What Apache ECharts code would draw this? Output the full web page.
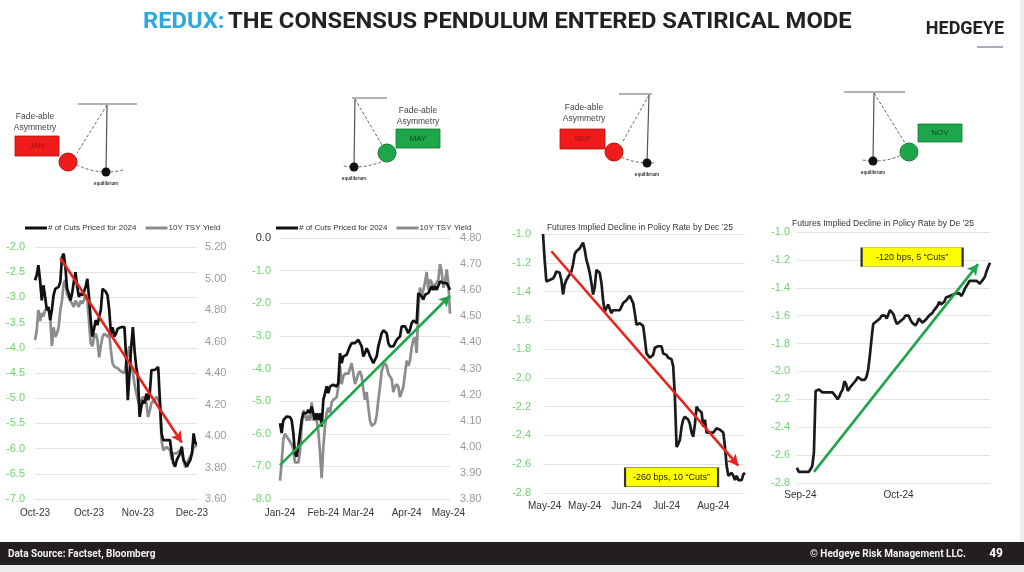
<!DOCTYPE html>
<html>
<head>
<meta charset="utf-8">
<script src="https://cdn.jsdelivr.net/npm/echarts@6/dist/echarts.min.js"></script>
<style>
  html, body { margin: 0; padding: 0; background: #fff; }
  #slide { width: 1024px; height: 572px; }
</style>
</head>
<body>
<div id="slide"></div>
<script>
// ---- panel 1: Oct-23 .. Dec-23 ----
const cuts1 = [-2.66,-2.56,-2.36,-2.66,-3.06,-2.76,-2.99,-3.25,-3.19,-3.45,-3.25,-2.96,-2.83,-2.86,-2.79,-2.69,-2.20,-2.13,-2.40,-2.83,
  -2.92,-3.06,-2.92,-2.69,-2.50,-2.79,-2.99,-2.92,-2.96,-2.89,-2.79,-2.63,-2.99,-3.45,-3.78,-3.62,-3.45,-3.55,-3.39,-3.25,
  -2.83,-2.83,-2.89,-2.96,-3.25,-3.72,-3.59,-3.78,-3.72,-3.62,-3.62,-3.59,-3.59,-3.59,-4.18,-5.04,-4.51,-3.98,-3.59,-4.05,
  -4.38,-4.58,-5.37,-5.17,-5.04,-5.10,-4.91,-5.04,-4.91,-4.44,-4.44,-4.44,-4.44,-4.38,-4.38,-5.70,-5.83,-5.83,-5.83,-5.83,
  -5.83,-6.10,-6.29,-6.36,-6.23,-6.16,-6.10,-5.96,-6.23,-6.29,-6.36,-6.29,-6.23,-6.10,-5.70,-5.90,-5.90];
const yld1 = [4.61,4.67,4.80,4.73,4.78,4.76,4.80,4.81,4.80,4.76,4.57,4.69,4.63,4.65,4.69,4.80,4.86,4.97,4.99,4.90,
  4.88,4.86,4.86,4.82,4.86,4.84,4.82,4.86,4.84,4.86,4.90,4.86,4.73,4.59,4.57,4.63,4.65,4.61,4.50,4.57,
  4.63,4.65,4.65,4.63,4.65,4.54,4.46,4.44,4.44,4.43,4.42,4.41,4.40,4.40,4.46,4.52,4.57,4.44,4.40,4.33,
  4.27,4.27,4.19,4.23,4.25,4.23,4.21,4.12,4.16,4.21,4.21,4.23,4.25,4.23,4.21,3.97,3.91,3.91,3.93,3.93,
  3.91,3.85,3.89,3.89,3.89,3.89,3.91,3.89,3.85,3.80,3.83,3.85,3.87,3.89,3.93,3.94,3.94];
const ticks1 = [[0, 'Oct-23'], [32, 'Oct-23'], [61, 'Nov-23'], [93, 'Dec-23']];
const arrow1 = [[15, -2.22], [87, -5.88]];

// ---- panel 2: Jan-24 .. May-24 ----
const cuts2 = [-5.68,-5.98,-5.58,-5.52,-5.47,-5.52,-5.49,-5.58,-5.98,-6.60,-6.70,-6.39,-5.98,-5.58,-5.37,-5.32,-5.37,-5.27,-5.37,-5.17,
  -5.37,-5.58,-5.37,-5.58,-5.37,-5.78,-4.96,-4.76,-4.55,-4.76,-4.55,-4.50,-4.50,-4.45,-4.55,-4.45,-3.53,-3.84,-3.63,-3.63,
  -3.58,-3.63,-3.32,-3.22,-3.27,-3.22,-3.17,-3.12,-3.22,-3.32,-3.63,-3.53,-3.38,-3.48,-3.63,-3.73,-3.84,-3.73,-3.63,-3.32,
  -3.12,-2.92,-2.83,-2.83,-2.92,-3.22,-3.32,-3.38,-3.32,-3.22,-3.12,-3.12,-3.02,-2.71,-2.69,-2.71,-2.81,-2.92,-2.81,-2.61,
  -2.53,-2.51,-2.61,-1.69,-1.64,-1.79,-1.89,-1.74,-1.79,-1.69,-1.59,-1.48,-1.59,-1.48,-1.59,-1.64,-1.33,-1.38,-1.38,-1.43,
  -1.38,-1.48,-1.59];
const yld2 = [3.87,3.94,4.03,4.05,4.04,4.03,4.03,4.01,3.99,3.94,3.94,3.94,3.98,4.08,4.14,4.12,4.10,4.12,4.10,4.17,
  4.10,4.12,4.10,4.06,3.98,3.88,4.00,4.08,4.13,4.15,4.13,4.17,4.18,4.18,4.19,4.23,4.31,4.24,4.27,4.28,
  4.28,4.28,4.28,4.32,4.28,4.24,4.26,4.28,4.29,4.27,4.22,4.18,4.21,4.15,4.10,4.08,4.08,4.09,4.12,4.18,
  4.23,4.29,4.31,4.32,4.31,4.28,4.28,4.26,4.21,4.23,4.24,4.23,4.19,4.21,4.23,4.28,4.33,4.31,4.33,4.38,
  4.41,4.42,4.36,4.53,4.61,4.58,4.60,4.63,4.67,4.60,4.64,4.63,4.61,4.61,4.63,4.64,4.70,4.67,4.61,4.63,
  4.68,4.63,4.51];
const ticks2 = [[0, 'Jan-24'], [26, 'Feb-24'], [47, 'Mar-24'], [76, 'Apr-24'], [101, 'May-24']];
const arrow2 = [[0, -6.96], [102, -1.77]];

// ---- panel 3: May-24 .. Aug-24 ----
const rate3 = [-1.00,-1.18,-1.33,-1.33,-1.32,-1.32,-1.31,-1.29,-1.26,-1.26,-1.27,-1.32,-1.42,-1.35,-1.32,-1.30,-1.28,-1.26,-1.21,-1.14,
  -1.12,-1.11,-1.10,-1.09,-1.06,-1.11,-1.18,-1.22,-1.27,-1.34,-1.42,-1.37,-1.25,-1.25,-1.27,-1.34,-1.46,-1.54,-1.53,-1.49,
  -1.49,-1.55,-1.53,-1.54,-1.53,-1.53,-1.53,-1.53,-1.48,-1.49,-1.46,-1.47,-1.43,-1.43,-1.48,-1.55,-1.63,-1.63,-1.62,-1.62,
  -1.64,-1.73,-1.83,-1.84,-1.86,-1.85,-1.84,-1.79,-1.78,-1.78,-1.77,-1.78,-1.83,-1.82,-1.84,-1.86,-1.87,-1.87,-1.92,-2.13,
  -2.48,-2.46,-2.43,-2.34,-2.29,-2.27,-2.27,-2.29,-2.32,-2.38,-2.41,-2.32,-2.20,-2.22,-2.22,-2.24,-2.34,-2.29,-2.38,-2.38,
  -2.38,-2.38,-2.38,-2.38,-2.35,-2.35,-2.36,-2.36,-2.38,-2.48,-2.61,-2.68,-2.68,-2.66,-2.68,-2.71,-2.68,-2.71,-2.72,-2.71,
  -2.67,-2.66];
const ticks3 = [[1, 'May-24'], [25, 'May-24'], [50, 'Jun-24'], [74, 'Jul-24'], [102, 'Aug-24']];
const arrow3 = [[5, -1.12], [117, -2.61]];
const note3 = { x: 77, y: -2.69, text: '-260 bps, 10 \u201cCuts\u201d' };

// ---- panel 4: Sep-24 .. Oct-24 ----
const rate4 = [-2.69,-2.72,-2.72,-2.72,-2.72,-2.72,-2.72,-2.72,-2.72,-2.68,-2.58,-2.14,-2.13,-2.13,-2.14,-2.15,-2.15,-2.15,-2.15,-2.15,
  -2.15,-2.15,-2.15,-2.18,-2.20,-2.18,-2.15,-2.13,-2.07,-2.09,-2.14,-2.12,-2.11,-2.09,-2.08,-2.06,-2.04,-2.04,-2.06,-2.07,
  -2.06,-2.04,-1.99,-1.89,-1.77,-1.66,-1.65,-1.64,-1.63,-1.62,-1.60,-1.59,-1.60,-1.62,-1.59,-1.56,-1.57,-1.59,-1.63,-1.66,
  -1.65,-1.64,-1.63,-1.62,-1.60,-1.59,-1.60,-1.63,-1.65,-1.66,-1.67,-1.65,-1.62,-1.63,-1.65,-1.64,-1.63,-1.62,-1.60,-1.59,
  -1.58,-1.56,-1.56,-1.53,-1.50,-1.52,-1.53,-1.50,-1.47,-1.46,-1.46,-1.45,-1.45,-1.44,-1.44,-1.43,-1.44,-1.46,-1.44,-1.41,
  -1.39,-1.37,-1.35,-1.34,-1.35,-1.35,-1.35,-1.36,-1.37,-1.36,-1.34,-1.32,-1.28,-1.25,-1.22];
const ticks4 = [[2, 'Sep-24'], [60, 'Oct-24']];
const arrow4 = [[10, -2.72], [107, -1.23]];
const note4 = { x: 68, y: -1.18, text: '-120 bps, 5 \u201cCuts\u201d' };

const CUTS = '# of Cuts Priced for 2024';
const YLD = '10Y TSY Yield';
const FONT = '"Liberation Sans", Arial, sans-serif';
const GREEN_LBL = '#6fd36f';
const RED = '#e8231d';
const GREEN = '#1fa64a';

const chart = echarts.init(document.getElementById('slide'));

function catAxis(gridIndex, n, ticks, margin) {
  const lookup = {};
  ticks.forEach(([i, t]) => { lookup[i] = t; });
  return {
    type: 'category', gridIndex, boundaryGap: false,
    data: Array.from({ length: n }, (_, i) => String(i)),
    axisLine: { show: false }, axisTick: { show: false },
    axisLabel: {
      interval: (i) => lookup[i] !== undefined,
      formatter: (v, i) => lookup[i] || '',
      color: '#333', fontSize: 10, fontFamily: FONT, margin
    }
  };
}

function valAxis(gridIndex, min, max, interval, digits, color, margin, grid, position) {
  return {
    type: 'value', gridIndex, min, max, interval, position: position || 'left',
    axisLine: { show: false }, axisTick: { show: false },
    splitLine: { show: grid, lineStyle: { color: '#e3e3e3', width: 1 } },
    axisLabel: {
      formatter: (v) => v.toFixed(digits), color, fontSize: 11, fontFamily: FONT, margin
    }
  };
}

function arrow(pts, color) {
  return {
    silent: true, symbol: ['none', 'arrow'], symbolSize: [9, 11], animation: false,
    label: { show: false }, z: 10,
    lineStyle: { color, width: 2.6, type: 'solid' },
    data: [[{ coord: pts[0] }, { coord: pts[1] }]]
  };
}

function note(n, w, h) {
  return {
    silent: true, animation: false,
    data: [{
      coord: [n.x, n.y], symbol: 'rect', symbolSize: [w, h],
      itemStyle: { color: '#ffff00', borderColor: '#333', borderWidth: 1 },
      label: { show: true, position: 'inside', formatter: n.text, color: '#222', fontSize: 9, fontFamily: FONT }
    }]
  };
}

function lineSeries(name, xi, yi, data, color, extra) {
  return Object.assign({
    name, type: 'line', xAxisIndex: xi, yAxisIndex: yi, data,
    symbol: 'none', smooth: false, color,
    lineStyle: { color, width: 2.7 }, animation: false
  }, extra || {});
}

// ---- pendulum sketches ----
function pendulum(p) {
  const els = [];
  const dash = { stroke: '#555', lineWidth: 0.9, lineDash: [3, 2] };
  els.push({ type: 'line', shape: { x1: p.bar[0], y1: p.bar[2], x2: p.bar[1], y2: p.bar[2] }, style: { stroke: '#666', lineWidth: 1.2 } });
  els.push({ type: 'line', shape: { x1: p.pivot[0], y1: p.pivot[1], x2: p.rest[0], y2: p.rest[1] }, style: { stroke: '#555', lineWidth: 1.2 } });
  els.push({ type: 'line', shape: { x1: p.pivot[0], y1: p.pivot[1], x2: p.swingEnd[0], y2: p.swingEnd[1] }, style: dash });
  els.push({ type: 'arc', shape: { cx: p.pivot[0], cy: p.pivot[1], r: p.len, startAngle: p.arc[0] * Math.PI / 180, endAngle: p.arc[1] * Math.PI / 180 }, style: Object.assign({ fill: null }, dash) });
  els.push({ type: 'circle', shape: { cx: p.rest[0], cy: p.rest[1], r: 4.5 }, style: { fill: '#111' } });
  els.push({ type: 'circle', shape: { cx: p.ball[0], cy: p.ball[1], r: 9 }, style: { fill: p.color, stroke: p.edge, lineWidth: 1 } });
  els.push({ type: 'text', x: p.rest[0], y: p.rest[1] + 12, style: { text: 'equilibrium', font: 'bold 4.5px ' + FONT, fill: '#333', align: 'center', verticalAlign: 'middle' } });
  els.push({ type: 'rect', shape: { x: p.box[0], y: p.box[1], width: p.box[2], height: p.box[3] }, style: { fill: p.color, stroke: p.edge, lineWidth: 0.8 } });
  els.push({ type: 'text', x: p.box[0] + p.box[2] / 2, y: p.box[1] + p.box[3] / 2, style: { text: p.month, font: '8px ' + FONT, fill: p.ink, align: 'center', verticalAlign: 'middle' } });
  if (p.fade) {
    els.push({ type: 'text', x: p.fade[0], y: p.fade[1], style: { text: 'Fade-able\nAsymmetry', font: '8.5px ' + FONT, lineHeight: 10.5, fill: '#444', align: 'center', verticalAlign: 'middle' } });
  }
  return els;
}

const pendulums = [
  { bar: [78, 137, 104], pivot: [107, 105], rest: [106, 172], len: 67, swingEnd: [77, 153], arc: [76, 124], ball: [68, 162], color: '#f01c1c', edge: '#b01010', ink: '#9a0f0f', box: [15, 136, 44, 20], month: 'JAN', fade: [35, 122] },
  { bar: [352, 387, 98], pivot: [355, 99], rest: [354, 167], len: 68, swingEnd: [382, 145], arc: [59, 100], ball: [387, 153], color: '#1fa64a', edge: '#137a33', ink: '#0b4d22', box: [396, 129, 44, 19], month: 'MAY', fade: [418, 116] },
  { bar: [619, 652, 94], pivot: [649, 95], rest: [647, 163], len: 68, swingEnd: [622, 143], arc: [86, 122], ball: [614, 152], color: '#f01c1c', edge: '#b01010', ink: '#9a0f0f', box: [560, 129, 45, 20], month: 'SEP', fade: [584, 113] },
  { bar: [844, 905, 92], pivot: [874, 93], rest: [873, 161], len: 68, swingEnd: [905, 143], arc: [59, 100], ball: [909, 152], color: '#1fa64a', edge: '#137a33', ink: '#0b4d22', box: [918, 124, 44, 18], month: 'NOV' }
];

const graphics = [];
pendulums.forEach((p) => graphics.push(...pendulum(p)));
graphics.push(
  { type: 'text', x: 143, y: 22, scaleX: 1.08, style: { text: '{a|REDUX:} {b|THE CONSENSUS PENDULUM ENTERED SATIRICAL MODE}', verticalAlign: 'middle',
    rich: { a: { font: 'bold 22px Roboto, sans-serif', fill: '#29a9e1' }, b: { font: 'bold 22px Roboto, sans-serif', fill: '#222' } } } },
  { type: 'text', x: 1004, y: 29, style: { text: 'HEDGEYE', font: 'bold 18px Roboto, sans-serif', fill: '#222', align: 'right', verticalAlign: 'middle' } },
  { type: 'rect', shape: { x: 977, y: 46, width: 26, height: 2 }, style: { fill: '#a9acb8' } },
  { type: 'rect', shape: { x: 1020, y: 0, width: 4, height: 542 }, style: { fill: '#eeeeee' } },
  { type: 'rect', shape: { x: 0, y: 542, width: 1024, height: 23 }, style: { fill: '#231f20' } },
  { type: 'rect', shape: { x: 0, y: 565, width: 1024, height: 7 }, style: { fill: '#ececec' } },
  { type: 'text', x: 8, y: 554, style: { text: 'Data Source: Factset, Bloomberg', font: 'bold 10px Roboto, sans-serif', fill: '#f2f2f2', verticalAlign: 'middle' } },
  { type: 'text', x: 966, y: 554, style: { text: '\u00a9 Hedgeye Risk Management LLC.', font: 'bold 10px Roboto, sans-serif', fill: '#f2f2f2', align: 'right', verticalAlign: 'middle' } },
  { type: 'text', x: 1003, y: 554, style: { text: '49', font: 'bold 12px Roboto, sans-serif', fill: '#ffffff', align: 'right', verticalAlign: 'middle' } }
);

const legendBase = {
  data: [CUTS, YLD], itemWidth: 22, itemHeight: 3, itemGap: 9, icon: 'rect',
  textStyle: { fontSize: 8, fontFamily: FONT, color: '#333', padding: [0, 0, 0, -4] }
};

const option = {
  backgroundColor: '#ffffff',
  animation: false,
  title: [
    { text: 'Futures Implied Decline in Policy Rate by Dec \u201925', left: 635, top: 218, textAlign: 'center',
      textStyle: { fontSize: 8.5, fontWeight: 'normal', color: '#333', fontFamily: FONT } },
    { text: 'Futures Implied Decline in Policy Rate by De \u201925', left: 878, top: 214, textAlign: 'center',
      textStyle: { fontSize: 8.5, fontWeight: 'normal', color: '#333', fontFamily: FONT } }
  ],
  legend: [
    Object.assign({ left: 20, top: 219 }, legendBase),
    Object.assign({ left: 271, top: 219 }, legendBase)
  ],
  grid: [
    { left: 35, top: 247, width: 162, height: 252 },
    { left: 280, top: 238, width: 170, height: 261 },
    { left: 543, top: 234, width: 202, height: 259 },
    { left: 797, top: 232, width: 193, height: 251 }
  ],
  xAxis: [
    catAxis(0, cuts1.length, ticks1, 9),
    catAxis(1, cuts2.length, ticks2, 9),
    catAxis(2, rate3.length, ticks3, 8),
    catAxis(3, rate4.length, ticks4, 7)
  ],
  yAxis: [
    valAxis(0, -7, -2, 0.5, 1, GREEN_LBL, 10, true),
    valAxis(0, 3.6, 5.2, 0.2, 2, '#9a9a9a', 8, false, 'right'),
    valAxis(1, -8, 0, 1, 1, GREEN_LBL, 9, true),
    valAxis(1, 3.8, 4.8, 0.1, 2, '#9a9a9a', 10, false, 'right'),
    valAxis(2, -2.8, -1.0, 0.2, 1, GREEN_LBL, 12, true),
    valAxis(3, -2.8, -1.0, 0.2, 1, GREEN_LBL, 7, true)
  ],
  graphic: { elements: graphics },
  series: [
    lineSeries(YLD, 0, 1, yld1, '#8c8c8c'),
    lineSeries(CUTS, 0, 0, cuts1, '#111111', { markLine: arrow(arrow1, RED) }),
    lineSeries(YLD, 1, 3, yld2, '#8c8c8c'),
    lineSeries(CUTS, 1, 2, cuts2, '#111111', { markLine: arrow(arrow2, GREEN) }),
    lineSeries('Policy Dec25 A', 2, 4, rate3, '#1a1a1a', { markLine: arrow(arrow3, RED), markPoint: note(note3, 93, 19) }),
    lineSeries('Policy Dec25 B', 3, 5, rate4, '#1a1a1a', { markLine: arrow(arrow4, GREEN), markPoint: note(note4, 101, 19) })
  ]
};
// "0.0" on the second panel's left axis is dark, the rest green
option.yAxis[2].axisLabel.color = (v) => (Number(v) === 0 ? '#333' : GREEN_LBL);

chart.setOption(option);
</script>
</body>
</html>
